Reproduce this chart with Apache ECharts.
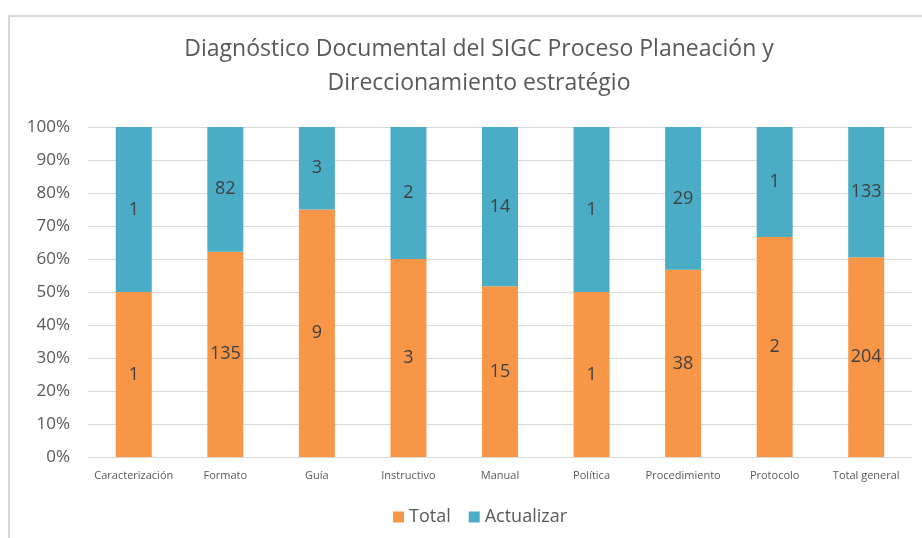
<!DOCTYPE html>
<html>
<head>
<meta charset="utf-8">
<script src="https://cdn.jsdelivr.net/npm/echarts@6/dist/echarts.min.js"></script>
<style>
html,body{margin:0;padding:0;background:#fff;}
#frame{position:absolute;left:8px;top:15px;width:930px;height:540px;border-left:2px solid #d9d9d9;border-top:2px solid #d9d9d9;}
#chart{position:absolute;left:0;top:0;width:922px;height:538px;}
</style>
</head>
<body>
<div id="frame"></div>
<div id="chart"></div>
<script>
const categories = ['Caracterización','Formato','Guía','Instructivo','Manual','Política','Procedimiento','Protocolo','Total general'];
const totalVals = [1,135,9,3,15,1,38,2,204];
const actualizarVals = [1,82,3,2,14,1,29,1,133];
const yTicks = [0,10,20,30,40,50,60,70,80,90,100];

const COLORS = {total:'#F79646', actualizar:'#4BACC6', text:'#595959'};
const FONT = '"Open Sans", sans-serif';

// share of each part per category, labels keep raw counts
const pct = (a,b) => a.map((v,i)=> v/(v+b[i])*100);
const totalPct = pct(totalVals, actualizarVals);
const actPct = pct(actualizarVals, totalVals);

const myChart = echarts.init(document.getElementById('chart'));

function mkSeries(name, pcts, raw, color){
    return {
        name: name, type:'bar', stack:'s', barWidth:36,
        data: pcts.map((v,i)=>({value:v, raw:raw[i]})),
        itemStyle:{color:color},
        label:{show:true, position:'inside', color:'#404040', fontSize:18, fontFamily:FONT,
            formatter: p => p.data.raw},
        emphasis:{disabled:true}
    };
}

myChart.setOption({
    animation:false,
    title:{
        text:'Diagnóstico Documental del SIGC Proceso Planeación y\nDireccionamiento estratégio',
        left:474, top:27, textAlign:'center',
        textStyle:{fontSize:23, fontWeight:'normal', color:COLORS.text, fontFamily:FONT, lineHeight:34}
    },
    legend:{
        data:['Total','Actualizar'], bottom:7, left:388,
        icon:'rect', itemWidth:11, itemHeight:11, itemGap:18, itemStyle:{borderWidth:0},
        textStyle:{fontSize:18, color:COLORS.text, fontFamily:FONT}
    },
    grid:{left:88, right:10, top:127, bottom:81},
    xAxis:{
        type:'category', data:categories,
        axisLine:{lineStyle:{color:'#d9d9d9', width:1}},
        axisTick:{show:false},
        axisLabel:{fontSize:11, color:COLORS.text, fontFamily:FONT, margin:13, interval:0}
    },
    yAxis:{
        type:'value', min:0, max:100, interval:10,
        axisLabel:{fontSize:17, color:COLORS.text, fontFamily:FONT, margin:18,
            formatter: v => yTicks.includes(v) ? v + '%' : ''},
        splitLine:{lineStyle:{color:'#d9d9d9', width:1}},
        axisLine:{show:false}, axisTick:{show:false}
    },
    series:[
        mkSeries('Total', totalPct, totalVals, COLORS.total),
        mkSeries('Actualizar', actPct, actualizarVals, COLORS.actualizar)
    ]
});
</script>
</body>
</html>
